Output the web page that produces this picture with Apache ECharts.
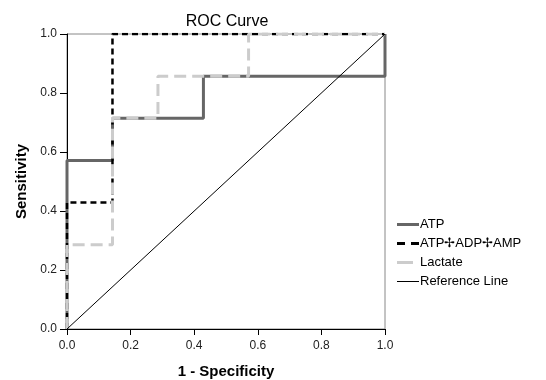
<!DOCTYPE html>
<html>
<head>
<meta charset="utf-8">
<script src="https://cdn.jsdelivr.net/npm/echarts@6/dist/echarts.min.js"></script>
<style>
  html, body { margin: 0; padding: 0; background: #fff; }
  #chart { width: 546px; height: 380px; }
</style>
</head>
<body>
<div id="chart"></div>
<script>
// ROC points (1 - specificity, sensitivity)
const atpX = [0, 0, 0.143, 0.143, 0.429, 0.429, 1, 1];
const atpY = [0, 0.571, 0.571, 0.714, 0.714, 0.857, 0.857, 1];
const sumX = [0, 0, 0.143, 0.143, 1];
const sumY = [0, 0.429, 0.429, 1, 1];
const lacX = [0, 0, 0.143, 0.143, 0.286, 0.286, 0.571, 0.571, 1];
const lacY = [0, 0.286, 0.286, 0.714, 0.714, 0.857, 0.857, 1, 1];
const refX = [0, 1];
const refY = [0, 1];
const seriesNames = ['ATP', 'ATP\u2722ADP\u2722AMP', 'Lactate', 'Reference Line'];

const pairs = (xs, ys) => xs.map((x, i) => [x, ys[i]]);
const font = 'Arial, "Liberation Sans", sans-serif';

// legend swatches, drawn in a 22x3 box
const legendIcons = [
  'path://M0,0h22v3h-22z',
  'path://M0,0h8v3h-8z M14,0h8v3h-8z',
  'path://M0,0h16v3h-16z M21.9,1.4h0.1v0.2h-0.1z',
  'path://M0,1h22v1h-22z',
];

const chart = echarts.init(document.getElementById('chart'), null, { renderer: 'canvas' });

const line = (name, data, color, width, type) => ({
  name,
  type: 'line',
  data,
  symbol: 'none',
  animation: false,
  lineStyle: { color, width, type },
  itemStyle: { color },
});

chart.setOption({
  title: {
    text: 'ROC Curve',
    left: 222,
    textAlign: 'center',
    top: 9,
    textStyle: { fontFamily: font, fontSize: 16, fontWeight: 'normal', color: '#000' },
  },
  grid: {
    left: 67, right: 161, top: 34, bottom: 51,
    outerBoundsMode: 'none',
    show: true, borderColor: '#888', borderWidth: 1,
  },
  legend: {
    orient: 'vertical',
    left: 392,
    top: 213,
    itemWidth: 22,
    itemHeight: 3,
    itemGap: 6,
    itemStyle: { borderWidth: 0 },
    textStyle: { fontFamily: font, fontSize: 13, color: '#000', padding: [0, 0, 0, -4] },
    data: seriesNames.map((name, i) => ({ name, icon: legendIcons[i] })),
  },
  xAxis: {
    type: 'value',
    min: 0, max: 1, interval: 0.2,
    name: '1 - Specificity',
    nameLocation: 'middle',
    nameGap: 35,
    nameTextStyle: { fontFamily: font, fontSize: 15, fontWeight: 'bold', color: '#000' },
    axisLine: { show: true, lineStyle: { color: '#000', width: 1 } },
    axisTick: { show: true, length: 6, lineStyle: { color: '#000' } },
    axisLabel: { fontFamily: font, fontSize: 12, color: '#222', margin: 11, formatter: v => v.toFixed(1) },
    splitLine: { show: false },
  },
  yAxis: {
    type: 'value',
    min: 0, max: 1, interval: 0.2,
    name: 'Sensitivity',
    nameLocation: 'middle',
    nameGap: 38,
    nameTextStyle: { fontFamily: font, fontSize: 15, fontWeight: 'bold', color: '#000' },
    axisLine: { show: true, lineStyle: { color: '#000', width: 1 } },
    axisTick: { show: true, length: 7, lineStyle: { color: '#000' } },
    axisLabel: { fontFamily: font, fontSize: 12, color: '#222', margin: 10, formatter: v => v.toFixed(1) },
    splitLine: { show: false },
  },
  series: [
    line(seriesNames[0], pairs(atpX, atpY), '#666', 3, 'solid'),
    line(seriesNames[1], pairs(sumX, sumY), '#000', 2.5, [6, 4]),
    line(seriesNames[2], pairs(lacX, lacY), '#ccc', 3, [12, 6]),
    line(seriesNames[3], pairs(refX, refY), '#000', 1, 'solid'),
  ],
});
</script>
</body>
</html>
